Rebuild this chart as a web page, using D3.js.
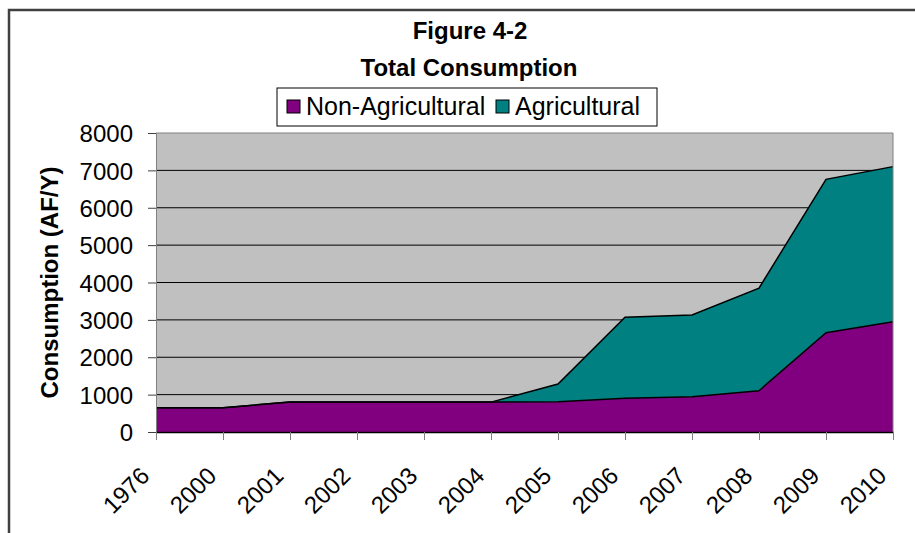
<!DOCTYPE html>
<html>
<head>
<meta charset="utf-8">
<script src="https://cdn.jsdelivr.net/npm/d3@7"></script>
<style>
  body { margin: 0; background: #fff; }
  svg text { font-family: Arial, "Liberation Sans", sans-serif; }
</style>
</head>
<body>
<svg id="chart" width="915" height="533"></svg>
<script>
// dados
const years = ["1976", "2000", "2001", "2002", "2003", "2004", "2005", "2006", "2007", "2008", "2009", "2010"];
const nonAgricultural = [650, 650, 800, 800, 800, 800, 810, 900, 945, 1105, 2655, 2950];
const agricultural = [0, 0, 0, 0, 0, 0, 475, 2170, 2185, 2745, 4105, 4150];
const yTicks = [0, 1000, 2000, 3000, 4000, 5000, 6000, 7000, 8000];

const width = 915, height = 533;
const margin = {top: 133, right: 22, bottom: 101, left: 156};
const svg = d3.select("#chart");

// moldura externa (apenas topo e esquerda visíveis)
svg.append("path")
    .attr("d", `M9,${height} L9,10 L${width},10`)
    .attr("fill", "none")
    .attr("stroke", "#404040")
    .attr("stroke-width", 2.5);

const x = d3.scalePoint()
    .domain(years)
    .range([margin.left, width - margin.right]);

const y = d3.scaleLinear()
    .domain([0, 8000])
    .range([height - margin.bottom, margin.top]);

// fundo da área do gráfico
svg.append("rect")
    .attr("x", margin.left)
    .attr("y", margin.top)
    .attr("width", width - margin.right - margin.left)
    .attr("height", height - margin.bottom - margin.top)
    .attr("fill", "#c0c0c0");

// linhas de grade
svg.append("g")
    .selectAll("line")
    .data(yTicks.slice(1, -1))
    .join("line")
    .attr("x1", margin.left)
    .attr("x2", width - margin.right)
    .attr("y1", d => y(d))
    .attr("y2", d => y(d))
    .attr("stroke", "#000")
    .attr("stroke-width", 1);

// empilhamento
const table = years.map((yr, i) => ({year: yr, non: nonAgricultural[i], ag: agricultural[i]}));
const stack = d3.stack().keys(["non", "ag"]);
const series = stack(table);
const colors = {non: "#800080", ag: "#008080"};

const area = d3.area()
    .x(d => x(d.data.year))
    .y0(d => y(d[0]))
    .y1(d => y(d[1]));

const topLine = d3.line()
    .x(d => x(d.data.year))
    .y(d => y(d[1]));

svg.append("g")
    .selectAll("path")
    .data(series)
    .join("path")
    .attr("d", area)
    .attr("fill", d => colors[d.key]);

svg.append("g")
    .selectAll("path")
    .data(series)
    .join("path")
    .attr("d", topLine)
    .attr("fill", "none")
    .attr("stroke", "#000")
    .attr("stroke-width", 1.5);

// borda direita e superior da área
svg.append("path")
    .attr("d", `M${margin.left},${margin.top} L${width - margin.right},${margin.top} L${width - margin.right},${height - margin.bottom}`)
    .attr("fill", "none")
    .attr("stroke", "#808080");

// eixo Y
const yAxis = svg.append("g")
    .attr("transform", `translate(${margin.left},0)`)
    .call(d3.axisLeft(y).tickValues(yTicks).tickSize(8).tickPadding(15).tickFormat(d3.format("d")));
yAxis.select(".domain").attr("stroke", "#808080");
yAxis.selectAll(".tick line").attr("stroke", "#404040");
yAxis.selectAll("text")
    .attr("font-size", 24)
    .attr("fill", "#000")
    .attr("dy", "0.36em")
    .style("font-family", "Arial, 'Liberation Sans', sans-serif");

// eixo X
const xAxis = svg.append("g")
    .attr("transform", `translate(0,${height - margin.bottom})`)
    .call(d3.axisBottom(x).tickSize(8).tickSizeOuter(0));
xAxis.select(".domain").attr("stroke", "#000").attr("stroke-width", 1.5);
xAxis.selectAll(".tick line").attr("stroke", "#808080");
xAxis.selectAll("text")
    .attr("font-size", 24)
    .attr("fill", "#000")
    .attr("text-anchor", "end")
    .attr("x", -36)
    .attr("y", 28)
    .attr("dy", 0)
    .attr("transform", "rotate(-45)")
    .style("font-family", "Arial, 'Liberation Sans', sans-serif");

// rótulo Y
svg.append("text")
    .attr("transform", `translate(58,${(margin.top + height - margin.bottom) / 2}) rotate(-90)`)
    .attr("text-anchor", "middle")
    .attr("font-size", 24)
    .attr("font-weight", "bold")
    .text("Consumption (AF/Y)");

// título
svg.append("text")
    .attr("x", 470).attr("y", 39)
    .attr("text-anchor", "middle")
    .attr("font-size", 24)
    .attr("font-weight", "bold")
    .text("Figure 4-2");
svg.append("text")
    .attr("x", 469).attr("y", 76)
    .attr("text-anchor", "middle")
    .attr("font-size", 24)
    .attr("font-weight", "bold")
    .text("Total Consumption");

// legenda
const legend = svg.append("g").attr("class", "legend");
legend.append("rect")
    .attr("x", 277).attr("y", 88)
    .attr("width", 380).attr("height", 38)
    .attr("fill", "#fff")
    .attr("stroke", "#000");

const legendItems = [
    {key: "non", label: "Non-Agricultural", x: 287},
    {key: "ag", label: "Agricultural", x: 496}
];
legendItems.forEach(item => {
    legend.append("rect")
        .attr("x", item.x).attr("y", 100)
        .attr("width", 13).attr("height", 13)
        .attr("fill", colors[item.key])
        .attr("stroke", "#000");
    legend.append("text")
        .attr("x", item.x + 19).attr("y", 115)
        .attr("font-size", 25)
        .text(item.label);
});
</script>
</body>
</html>
